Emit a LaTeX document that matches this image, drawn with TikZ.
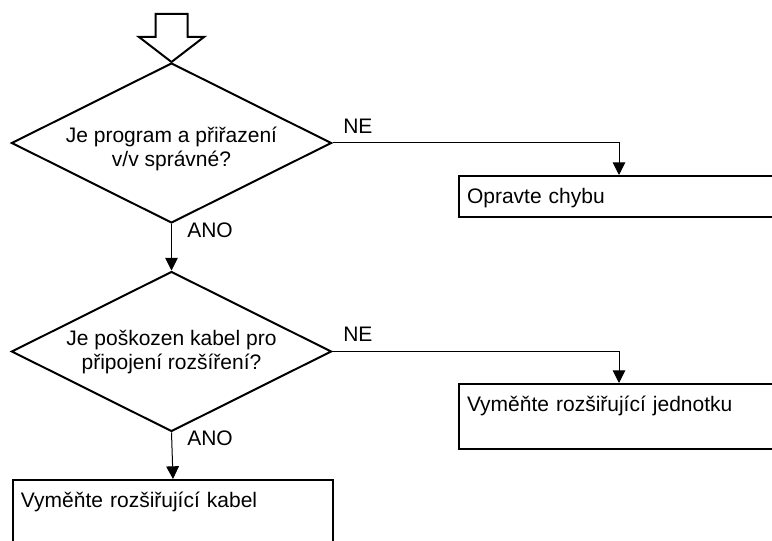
\documentclass[tikz,border=0pt]{standalone}
\usepackage{fontspec}
\setmainfont{Liberation Sans}
\usetikzlibrary{shapes.geometric,arrows.meta,calc}
\begin{document}
\begin{tikzpicture}[x=0.75pt,y=-0.75pt,
  every node/.style={font=\fontsize{15.75pt}{18pt}\selectfont},
  decision/.style={diamond, draw, line width=1.5pt, aspect=2, inner sep=0pt,
    minimum width=240pt, minimum height=120pt},
  question/.style={align=center, inner sep=0pt, anchor=base},
  action/.style={rectangle, draw, line width=1.5pt, inner xsep=6pt, inner ysep=0pt,
    anchor=north west, align=left, text height=21pt},
  tag/.style={inner sep=0pt, anchor=base west},
  flow/.style={line width=0.75pt, -{Triangle[length=9.5pt,width=9.5pt]}},
  startarrow/.style={line width=1.5pt, line join=miter}
]
\useasboundingbox (0,0) rectangle (772,541);
\clip (0,0) rectangle (772,541);

% decisions (the base anchor of a two-line label sits on its last line)
\node[decision] (d1) at (171.5,143) {};
\node[question] (q1) at ($(d1.center)+(0,23.5)$) {Je program a přiřazení\\v/v správné?};
\node[decision] (d2) at (171.5,351.5) {};
\node[question] (q2) at ($(d2.center)+(0,18.5)$) {Je poškozen kabel pro\\připojení rozšíření?};

% actions
\node[action, text width=243pt, text depth=9.75pt] (b1) at (458,175) {Opravte chybu};
\node[action, text width=243pt, text depth=27.75pt] (b2) at (458,383) {Vyměňte rozšiřující jednotku};
\node[action, text width=228pt, text depth=39pt] (b3) at (12,479) {Vyměňte rozšiřující kabel};

% entry arrow
\draw[startarrow] ($(d1.north)+(-16,-48)$) -- ($(d1.north)+(16,-48)$)
  -- ($(d1.north)+(16,-25)$) -- ($(d1.north)+(32.5,-25)$) -- (d1.north)
  -- ($(d1.north)+(-32.5,-25)$) -- ($(d1.north)+(-16,-25)$) -- cycle;

% connectors
\draw[flow] (d1.east) -| ($(b1.north west)+(161,0)$);
\node[tag] (ne1) at (343,134) {NE};
\draw[flow] (d1.south) -- (d2.north);
\node[tag] (ano1) at (187,237.5) {ANO};
\draw[flow] (d2.east) -| ($(b2.north west)+(161,0)$);
\node[tag] (ne2) at (343,342) {NE};
\draw[flow] (d2.south) -- (b3.north);
\node[tag] (ano2) at (187,446) {ANO};
\end{tikzpicture}
\end{document}
